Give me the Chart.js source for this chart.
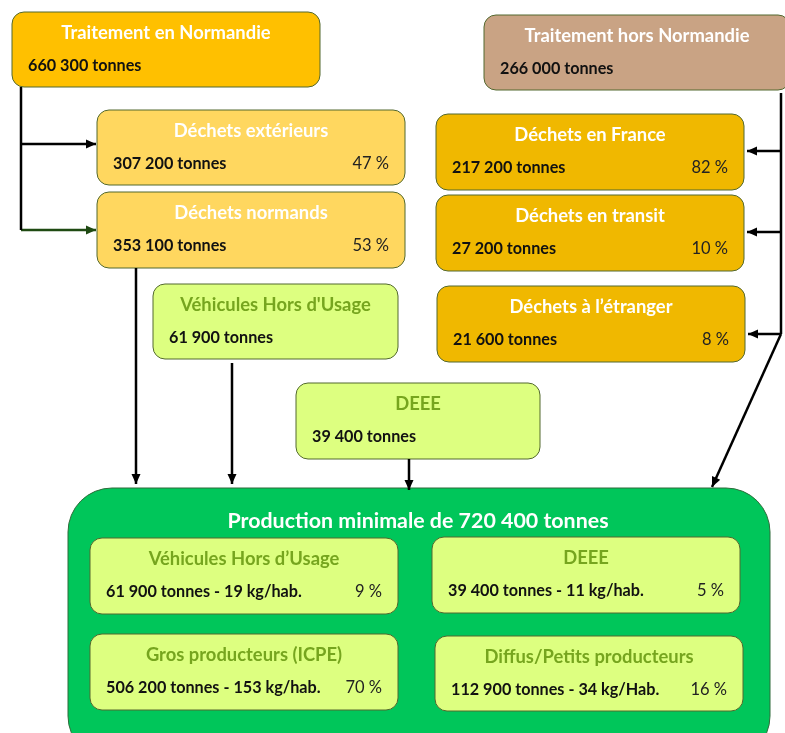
<!DOCTYPE html>
<html>
<head>
    <title>Production de déchets</title>
    <script src="https://cdn.jsdelivr.net/npm/chart.js"></script>
    <style>
        body { margin: 0; background: #fff; }
    </style>
</head>
<body>
    <canvas id="flowChart" width="785" height="733"></canvas>

    <script>
        // données
        const titles = ['Traitement en Normandie', 'Traitement hors Normandie', 'Déchets extérieurs', 'Déchets normands',
            'Déchets en France', 'Déchets en transit', 'Déchets à l’étranger', "Véhicules Hors d'Usage", 'DEEE',
            'Véhicules Hors d’Usage', 'DEEE', 'Gros producteurs (ICPE)', 'Diffus/Petits producteurs'];
        const tonnes = [660300, 266000, 307200, 353100, 217200, 27200, 21600, 61900, 39400, 61900, 39400, 506200, 112900];
        const parts = [null, null, 47, 53, 82, 10, 8, null, null, 9, 5, 70, 16];
        const kgHab = [null, null, null, null, null, null, null, null, null, 19, 11, 153, 34];
        const habLabels = [null, null, null, null, null, null, null, null, null, 'kg/hab.', 'kg/hab.', 'kg/hab.', 'kg/Hab.'];
        const productionTotale = 720400;

        // mise en page : [x0, y0, x1, y1, style]
        const boxes = [
            [12, 12, 320, 87, 'orange'],
            [484, 15, 790, 90, 'tan'],
            [97, 110, 405, 185, 'yellow'],
            [97, 192, 405, 268, 'yellow'],
            [436, 114, 744, 190, 'gold'],
            [436, 195, 744, 271, 'gold'],
            [437, 286, 745, 362, 'gold'],
            [153, 284, 398, 359, 'lime'],
            [296, 383, 540, 459, 'lime'],
            [90, 538, 398, 614, 'lime'],
            [432, 537, 740, 613, 'lime'],
            [90, 634, 398, 710, 'lime'],
            [435, 636, 743, 711, 'lime']
        ];
        const bigBox = [68, 488, 770, 760];

        const styles = {
            orange: { fill: '#FFC000', title: '#FFFFFF' },
            tan:    { fill: '#C9A384', title: '#FFFFFF' },
            yellow: { fill: '#FFD75F', title: '#FFFFFF' },
            gold:   { fill: '#F0B800', title: '#FFFFFF' },
            lime:   { fill: '#DDFF80', title: '#76A51E' }
        };

        // connecteurs : [points, flèche, couleur]
        const connectors = [
            [[[21, 87], [21, 230]], false, '#000'],
            [[[21, 144], [96, 144]], true, '#000'],
            [[[21, 230], [96, 230]], true, '#1F4A12'],
            [[[136, 268], [136, 484]], true, '#000'],
            [[[232, 363], [232, 484]], true, '#000'],
            [[[409, 459], [409, 490]], true, '#000'],
            [[[781, 93], [781, 334]], false, '#000'],
            [[[781, 151], [747, 151]], true, '#000'],
            [[[781, 232], [747, 232]], true, '#000'],
            [[[781, 334], [748, 334]], true, '#000'],
            [[[781, 334], [712, 487]], true, '#000']
        ];

        const fmt = n => n.toString().replace(/\B(?=(\d{3})+(?!\d))/g, ' ');
        const FONT = 'Lato, "Open Sans", sans-serif';

        function roundRect(c, x0, y0, x1, y1, r) {
            c.beginPath();
            c.moveTo(x0 + r, y0);
            c.arcTo(x1, y0, x1, y1, r);
            c.arcTo(x1, y1, x0, y1, r);
            c.arcTo(x0, y1, x0, y0, r);
            c.arcTo(x0, y0, x1, y0, r);
            c.closePath();
        }

        const boxPlugin = {
            id: 'boxes',
            beforeDatasetsDraw(chart) {
                const c = chart.ctx;
                const sx = chart.scales.x, sy = chart.scales.y;
                const px = v => sx.getPixelForValue(v), py = v => sy.getPixelForValue(v);
                c.save();

                // grand cadre vert
                roundRect(c, px(bigBox[0]), py(bigBox[1]), px(bigBox[2]), py(bigBox[3]), 44);
                c.fillStyle = '#00C65A';
                c.fill();
                c.lineWidth = 1;
                c.strokeStyle = '#2F6B3A';
                c.stroke();
                c.fillStyle = '#FFFFFF';
                c.font = 'bold 21.4px ' + FONT;
                c.textAlign = 'center';
                c.textBaseline = 'middle';
                c.fillText('Production minimale de ' + fmt(productionTotale) + ' tonnes', px(418), py(521));

                boxes.forEach((b, i) => {
                    const st = styles[b[4]];
                    const x0 = px(b[0]), y0 = py(b[1]), x1 = px(b[2]), y1 = py(b[3]);
                    roundRect(c, x0, y0, x1, y1, 12);
                    c.fillStyle = st.fill;
                    c.fill();
                    c.lineWidth = 1;
                    c.strokeStyle = '#52682F';
                    c.stroke();

                    c.textBaseline = 'middle';
                    c.textAlign = 'center';
                    c.fillStyle = st.title;
                    c.font = 'bold 18.4px ' + FONT;
                    c.fillText(titles[i], (x0 + x1) / 2, y0 + 21);

                    let txt = fmt(tonnes[i]) + ' tonnes';
                    if (kgHab[i] !== null) txt += ' - ' + kgHab[i] + ' ' + habLabels[i];
                    c.textAlign = 'left';
                    c.fillStyle = '#111';
                    c.font = 'bold 16.2px ' + FONT;
                    c.fillText(txt, x0 + 16, y0 + 54);

                    if (parts[i] !== null) {
                        c.textAlign = 'right';
                        c.fillStyle = '#222';
                        c.font = '16.5px ' + FONT;
                        c.fillText(parts[i] + ' %', x1 - 16, y0 + 54);
                    }
                });
                c.restore();
            },
            afterDatasetsDraw(chart) {
                const c = chart.ctx;
                c.save();
                chart.data.datasets.forEach((ds, i) => {
                    if (!ds.arrow) return;
                    const pts = chart.getDatasetMeta(i).data;
                    const a = pts[pts.length - 2], b = pts[pts.length - 1];
                    const ang = Math.atan2(b.y - a.y, b.x - a.x);
                    c.fillStyle = ds.borderColor;
                    c.beginPath();
                    c.moveTo(b.x, b.y);
                    c.lineTo(b.x - 10 * Math.cos(ang) + 4.5 * Math.sin(ang), b.y - 10 * Math.sin(ang) - 4.5 * Math.cos(ang));
                    c.lineTo(b.x - 10 * Math.cos(ang) - 4.5 * Math.sin(ang), b.y - 10 * Math.sin(ang) + 4.5 * Math.cos(ang));
                    c.closePath();
                    c.fill();
                });
                c.restore();
            }
        };

        const ctx = document.getElementById('flowChart').getContext('2d');
        const chart = new Chart(ctx, {
            type: 'scatter',
            data: {
                datasets: connectors.map(cn => ({
                    data: cn[0].map(p => ({ x: p[0], y: p[1] })),
                    showLine: true,
                    borderColor: cn[2],
                    borderWidth: 2.5,
                    pointRadius: 0,
                    arrow: cn[1]
                }))
            },
            options: {
                responsive: false,
                animation: false,
                layout: { padding: 0 },
                plugins: { legend: { display: false }, tooltip: { enabled: false } },
                scales: {
                    x: { type: 'linear', min: 0, max: 785, display: false },
                    y: { type: 'linear', min: 0, max: 733, reverse: true, display: false }
                }
            },
            plugins: [boxPlugin]
        });
    </script>
</body>
</html>
